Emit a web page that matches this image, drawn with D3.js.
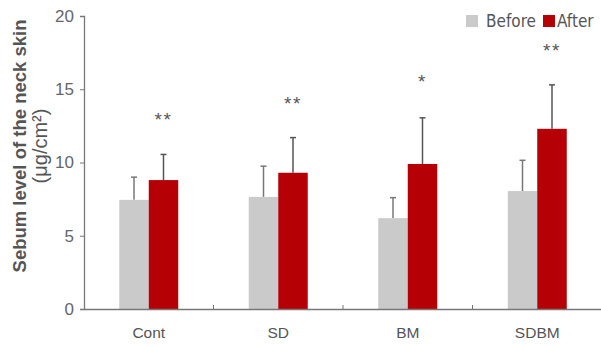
<!DOCTYPE html>
<html>
<head>
<meta charset="utf-8">
<script src="https://cdn.jsdelivr.net/npm/d3@7"></script>
<style>
  body { margin: 0; background: #fff; }
  svg { display: block; font-family: "Liberation Sans Narrow", "DejaVu Sans Condensed", "Liberation Sans", Arial, sans-serif; }
</style>
</head>
<body>
<svg id="chart" width="601" height="347"></svg>
<script>
// Données
const categories = ["Cont", "SD", "BM", "SDBM"];
const seriesNames = ["Before", "After"];
const beforeValues = [7.45, 7.65, 6.2, 8.05];
const beforeErrors = [1.55, 2.1, 1.4, 2.1];
const afterValues = [8.8, 9.3, 9.9, 12.3];
const afterErrors = [1.75, 2.4, 3.15, 3.0];
const stars = ["**", "**", "*", "**"];
const yTicks = [0, 5, 10, 15, 20];

const colors = { Before: "#c9cac9", After: "#b50005" };

const svg = d3.select("#chart");
const margin = { left: 84, right: 0, top: 16, bottom: 38 };
const width = 601, height = 347;

const x = d3.scaleBand()
    .domain(categories)
    .range([margin.left, 602])
    .paddingInner(0)
    .paddingOuter(0);

const y = d3.scaleLinear()
    .domain([0, 20])
    .range([height - margin.bottom, margin.top]);

const barW = 29.5;

// axe Y
const yAxis = svg.append("g")
    .attr("transform", `translate(${margin.left},0)`)
    .call(d3.axisLeft(y).tickValues(yTicks).tickSize(4).tickPadding(6));
yAxis.select(".domain").attr("stroke", "#777").attr("stroke-width", 1.3);
yAxis.selectAll(".tick line").attr("stroke", "#777");
yAxis.selectAll("text")
    .attr("fill", "#666")
    .style("font-size", "17px");

// barres
const groups = svg.append("g").selectAll("g")
    .data(categories)
    .join("g");

const rows = categories.map((c, i) => ([
    { cat: c, key: "Before", v: beforeValues[i], e: beforeErrors[i], off: -barW },
    { cat: c, key: "After", v: afterValues[i], e: afterErrors[i], off: 0 }
]));

groups.each(function (c, i) {
    const g = d3.select(this);
    const cx = x(c) + x.bandwidth() / 2;
    rows[i].forEach(d => {
        const bx = cx + d.off;
        const col = d.key === "Before" ? "#777" : "#555";
        // barre d'erreur
        g.append("line")
            .attr("x1", bx + barW / 2).attr("x2", bx + barW / 2)
            .attr("y1", y(d.v)).attr("y2", y(d.v + d.e))
            .attr("stroke", col)
            .attr("stroke-width", 1.5);
        g.append("line")
            .attr("x1", bx + barW / 2 - 3).attr("x2", bx + barW / 2 + 3)
            .attr("y1", y(d.v + d.e)).attr("y2", y(d.v + d.e))
            .attr("stroke", col)
            .attr("stroke-width", 1.5);
        g.append("rect")
            .attr("x", bx)
            .attr("y", y(d.v))
            .attr("width", barW)
            .attr("height", y(0) - y(d.v))
            .attr("fill", colors[d.key]);
    });
    // étoiles de significativité
    const after = rows[i][1];
    g.append("text")
        .attr("x", cx + barW / 2)
        .attr("y", y(after.v + after.e) - (stars[i].length === 1 ? 30 : 28))
        .attr("text-anchor", "middle")
        .attr("fill", "#555")
        .attr("letter-spacing", "1.5px")
        .style("font-size", "19px")
        .style("font-family", "'Liberation Sans', Arial, sans-serif")
        .text(stars[i]);
});

// axe X
const xAxis = svg.append("g")
    .attr("transform", `translate(0,${y(0)})`)
    .call(d3.axisBottom(x).tickSize(0).tickPadding(18));
xAxis.select(".domain").attr("stroke", "#777").attr("stroke-width", 1.3);
xAxis.selectAll("text").attr("fill", "#555").style("font-size", "15.5px");
svg.append("g").selectAll("line")
    .data(categories.slice(1))
    .join("line")
    .attr("x1", d => x(d)).attr("x2", d => x(d))
    .attr("y1", y(0)).attr("y2", y(0) - 4)
    .attr("stroke", "#777");

// titre de l'axe Y
const title = svg.append("text")
    .attr("transform", "translate(26,146) rotate(-90)")
    .attr("text-anchor", "middle")
    .attr("fill", "#555")
    .style("font-family", "'Liberation Sans', Arial, sans-serif")
    .style("font-weight", "bold")
    .style("font-size", "18.5px");
title.append("tspan").attr("x", 0).attr("dy", 0).text("Sebum level of the neck skin");
title.append("tspan").attr("x", 0).attr("dy", 21)
    .style("font-weight", "normal").style("font-size", "20px").text("(μg/cm²)");

// légende
const legend = svg.append("g").selectAll("g")
    .data(seriesNames)
    .join("g")
    .attr("transform", (d, i) => `translate(${i === 0 ? 466 : 543},15)`);
legend.append("rect")
    .attr("width", 12).attr("height", 12)
    .attr("fill", d => colors[d]);
legend.append("text")
    .attr("x", (d, i) => i === 0 ? 20 : 14)
    .attr("y", 12)
    .attr("fill", "#555")
    .style("font-size", "17px")
    .text(d => d);
</script>
</body>
</html>
